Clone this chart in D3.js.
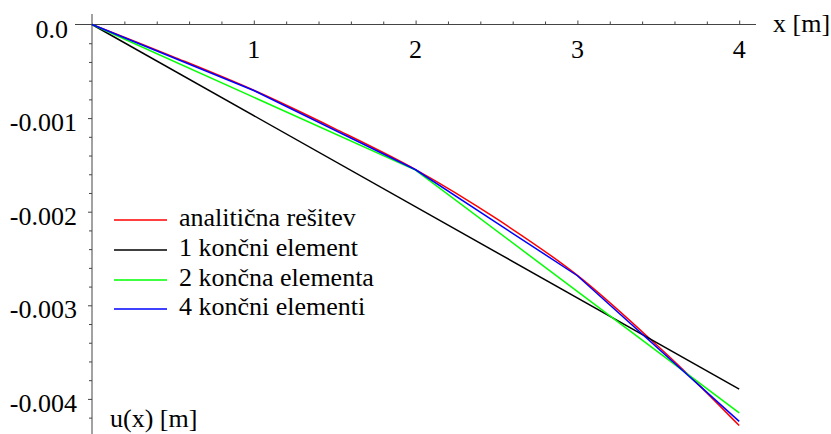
<!DOCTYPE html>
<html>
<head>
<meta charset="utf-8">
<script src="https://cdn.jsdelivr.net/npm/d3@7"></script>
<style>
  body { margin: 0; background: #fff; }
  svg { display: block; background: #fff; }
</style>
</head>
<body>
<svg id="chart" width="831" height="434" font-family="'Liberation Serif', 'Times New Roman', Times, 'DejaVu Serif', serif" font-size="26"></svg>
<script>
// Displacement u(x) of the bar: analytical solution vs. finite element approximations
const xAnalytic = [0, 0.5, 1, 1.5, 2, 2.5, 3, 3.5, 3.75, 4];
const uAnalytic = [0, -0.000343, -0.000703, -0.001112, -0.001550, -0.002075, -0.002680, -0.003440, -0.003850, -0.004285];

const xOneElement = [0, 4];
const uOneElement = [0, -0.003895];

const xTwoElements = [0, 2, 4];
const uTwoElements = [0, -0.001555, -0.004150];

const xFourElements = [0, 1, 2, 3, 4];
const uFourElements = [0, -0.000705, -0.001552, -0.002684, -0.004240];

const seriesNames = ["analitična rešitev", "1 končni element", "2 končna elementa", "4 končni elementi"];
const seriesColors = ["#ff0000", "#000000", "#00ff00", "#0000ff"];

const xTickValues = [1, 2, 3, 4];
const xTickLabels = ["1", "2", "3", "4"];
const yTickValues = [0, -0.001, -0.002, -0.003, -0.004];
const yTickLabels = ["0.0", "-0.001", "-0.002", "-0.003", "-0.004"];

const xAxisTitle = "x [m]";
const yAxisTitle = "u(x) [m]";

const svg = d3.select("#chart");
const fontFamily = "'Liberation Serif', 'Times New Roman', Times, 'DejaVu Serif', serif";

const x = d3.scaleLinear().domain([0, 4]).range([92, 739.2]);
const y = d3.scaleLinear().domain([0, -0.004]).range([24.5, 398.9]);

const axisColor = "#444";
const x0 = x(0), y0 = y(0);

// axis lines
svg.append("line").attr("x1", 75).attr("x2", 756).attr("y1", y0).attr("y2", y0)
  .attr("stroke", axisColor).attr("stroke-width", 1);
svg.append("line").attr("x1", x0).attr("x2", x0).attr("y1", 14).attr("y2", 434)
  .attr("stroke", axisColor).attr("stroke-width", 1);

// x ticks (pointing up), minor every 0.2
const xMinor = d3.range(1, 21).map(i => +(i * 0.2).toFixed(1));
svg.append("g").attr("transform", `translate(0,${y0})`)
  .call(d3.axisTop(x).tickValues(xMinor).tickFormat("").tickSizeOuter(0).tickSize(3))
  .call(g => g.select(".domain").remove())
  .call(g => g.selectAll(".tick line").attr("stroke", axisColor)
    .attr("y2", d => Number.isInteger(d) ? -4 : -3));

// y ticks (pointing left), minor every 0.0002
const yMinor = d3.range(1, 22).map(i => -i * 0.0002);
svg.append("g").attr("transform", `translate(${x0},0)`)
  .call(d3.axisLeft(y).tickValues(yMinor).tickFormat("").tickSizeOuter(0).tickSize(3))
  .call(g => g.select(".domain").remove())
  .call(g => g.selectAll(".tick line").attr("stroke", axisColor)
    .attr("x2", (d, i) => (i + 1) % 5 === 0 ? -4 : -3));

const label = sel => sel.attr("font-family", fontFamily).attr("font-size", 26).attr("fill", "#000");

// x tick labels below the axis
svg.append("g").selectAll("text").data(xTickValues).join("text")
  .call(label)
  .attr("x", d => x(d)).attr("y", y0 + 33.5)
  .attr("text-anchor", "middle")
  .text((d, i) => xTickLabels[i]);

// y tick labels
svg.append("g").selectAll("text").data(yTickValues).join("text")
  .call(label)
  .attr("x", d => d === 0 ? 68 : 77).attr("y", d => y(d) + 13)
  .attr("text-anchor", "end")
  .text((d, i) => yTickLabels[i]);

// axis titles
svg.append("text").call(label).attr("x", 773).attr("y", 32).text(xAxisTitle);
svg.append("text").call(label).attr("x", 110).attr("y", 427).text(yAxisTitle);

// curves
const line = d3.line().x(d => x(d[0])).y(d => y(d[1]));
const smooth = d3.line().x(d => x(d[0])).y(d => y(d[1])).curve(d3.curveCatmullRom.alpha(0.5));

const series = [
  { xs: xAnalytic, us: uAnalytic, gen: smooth },
  { xs: xOneElement, us: uOneElement, gen: line },
  { xs: xTwoElements, us: uTwoElements, gen: line },
  { xs: xFourElements, us: uFourElements, gen: line }
];

series.forEach((s, i) => {
  svg.append("path")
    .datum(s.xs.map((v, k) => [v, s.us[k]]))
    .attr("d", s.gen)
    .attr("fill", "none")
    .attr("stroke", seriesColors[i])
    .attr("stroke-width", 1.5);
});

// legend
const legendRows = [220, 250, 280, 309];
const legend = svg.append("g");
seriesNames.forEach((name, i) => {
  legend.append("line")
    .attr("x1", 114).attr("x2", 167)
    .attr("y1", legendRows[i]).attr("y2", legendRows[i])
    .attr("stroke", seriesColors[i]).attr("stroke-width", 1.5);
  legend.append("text")
    .call(label)
    .attr("x", 179).attr("y", legendRows[i] + 5.5)
    .text(name);
});
</script>
</body>
</html>
